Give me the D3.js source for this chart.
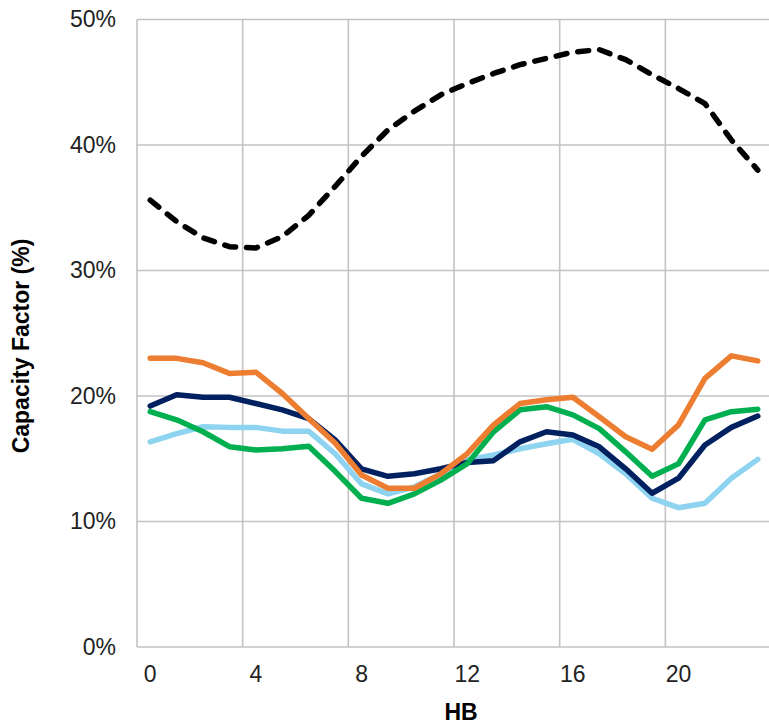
<!DOCTYPE html>
<html><head><meta charset="utf-8">
<script src="https://cdn.jsdelivr.net/npm/d3@7"></script>
<style>
html,body{margin:0;padding:0;background:#fff;}
svg{display:block;}
</style></head>
<body>
<svg id="chart" width="769" height="726"></svg>
<script>
const hours = d3.range(0, 24);
const xTickLabels = [0, 4, 8, 12, 16, 20];
const yTicks = [0, 0.1, 0.2, 0.3, 0.4, 0.5];

const seriesDashed = [35.6,33.9,32.6,31.9,31.8,32.7,34.4,36.7,39.1,41.2,42.7,44.0,44.9,45.7,46.4,46.9,47.4,47.6,46.8,45.6,44.5,43.3,40.4,38.0];
const seriesNavy   = [19.2,20.1,19.9,19.9,19.4,18.9,18.2,16.5,14.2,13.6,13.8,14.2,14.7,14.85,16.35,17.15,16.9,15.95,14.2,12.25,13.45,16.1,17.5,18.4];
const seriesOrange = [23.0,23.0,22.65,21.8,21.9,20.2,18.2,16.25,13.7,12.65,12.65,13.8,15.4,17.7,19.4,19.7,19.9,18.35,16.75,15.75,17.7,21.4,23.2,22.8];
const seriesGreen  = [18.75,18.1,17.15,15.96,15.7,15.8,16.0,14.0,11.85,11.45,12.2,13.3,14.6,17.15,18.9,19.15,18.5,17.4,15.55,13.6,14.6,18.1,18.75,18.95];
const seriesLight  = [16.35,17.0,17.55,17.5,17.5,17.2,17.2,15.4,13.0,12.2,12.75,13.8,14.9,15.3,15.8,16.2,16.55,15.4,13.8,11.85,11.1,11.45,13.45,14.95];

const svg = d3.select("#chart");
const pLeft = 137, pRight = 771, pTop = 19.5, pBottom = 647;

const xBand = d3.scaleBand().domain(hours).range([pLeft, pRight]).padding(0);
const xc = h => xBand(h) + xBand.bandwidth() / 2;
const y = d3.scaleLinear().domain([0, 0.5]).range([pBottom, pTop]);

// gridlines
const grid = svg.append("g");
grid.selectAll("line.h").data(yTicks).join("line")
  .attr("x1", pLeft).attr("x2", 769)
  .attr("y1", d => y(d)).attr("y2", d => y(d))
  .attr("stroke", "#c3c3c3").attr("stroke-width", 1.6);
grid.selectAll("line.v").data([0, 4, 8, 12, 16, 20]).join("line")
  .attr("x1", d => xBand(d)).attr("x2", d => xBand(d))
  .attr("y1", pTop).attr("y2", pBottom)
  .attr("stroke", "#c3c3c3").attr("stroke-width", 1.6);

// y axis labels
const yAxis = d3.axisLeft(y).tickValues(yTicks).tickFormat(d3.format(".0%")).tickSize(0).tickPadding(21);
const ya = svg.append("g").attr("transform", `translate(${pLeft},0)`).call(yAxis);
ya.select(".domain").remove();
ya.selectAll("text").attr("font-family", "Liberation Sans, Arial, sans-serif").attr("font-size", 23).attr("fill", "#222");

// x axis labels
const xAxis = d3.axisBottom(xBand).tickValues(xTickLabels).tickSize(0).tickPadding(19);
const xa = svg.append("g").attr("transform", `translate(0,${pBottom})`).call(xAxis);
xa.select(".domain").remove();
xa.selectAll("text").attr("font-family", "Liberation Sans, Arial, sans-serif").attr("font-size", 23).attr("fill", "#222");

// axis titles
svg.append("text").attr("x", 461).attr("y", 720).attr("text-anchor", "middle")
  .attr("font-family", "Liberation Sans, Arial, sans-serif").attr("font-weight", "bold").attr("font-size", 23)
  .attr("fill", "#000").text("HB");
svg.append("text").attr("transform", "translate(29,346) rotate(-90)").attr("text-anchor", "middle")
  .attr("font-family", "Liberation Sans, Arial, sans-serif").attr("font-weight", "bold").attr("font-size", 23)
  .attr("fill", "#000").text("Capacity Factor (%)");

const line = d3.line().x((d, i) => xc(hours[i])).y(d => y(d / 100));

const series = [
  {data: seriesLight, color: "#8ed3ef"},
  {data: seriesNavy, color: "#002060"},
  {data: seriesGreen, color: "#00b050"},
  {data: seriesOrange, color: "#ed7d31"}
];
svg.selectAll("path.s").data(series).join("path")
  .attr("d", d => line(d.data)).attr("fill", "none")
  .attr("stroke", d => d.color).attr("stroke-width", 5.5)
  .attr("stroke-linejoin", "round").attr("stroke-linecap", "round");

svg.append("path").attr("d", line(seriesDashed)).attr("fill", "none")
  .attr("stroke", "#000").attr("stroke-width", 5.5)
  .attr("stroke-dasharray", "11,11").attr("stroke-linecap", "round").attr("stroke-linejoin", "round");
</script>
</body></html>
